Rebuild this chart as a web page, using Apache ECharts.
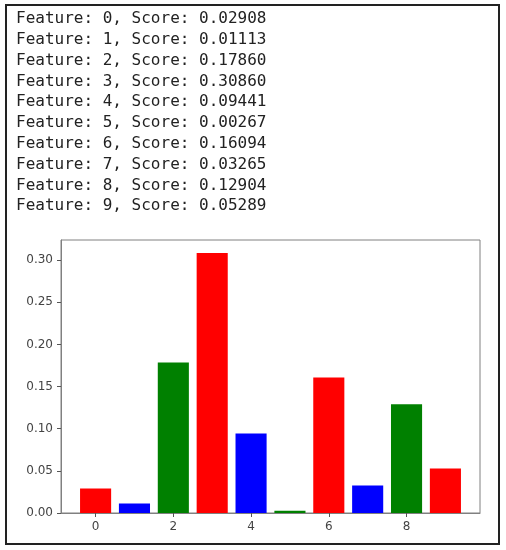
<!DOCTYPE html>
<html>
<head>
<meta charset="utf-8">
<script src="https://cdn.jsdelivr.net/npm/echarts@6/dist/echarts.min.js"></script>
<style>
html,body{margin:0;padding:0;background:#fff;}
#chart{width:506px;height:550px;}
</style>
</head>
<body>
<div id="chart"></div>
<script>
// ---- data ----
const features = [0, 1, 2, 3, 4, 5, 6, 7, 8, 9];
const scores = [0.02908, 0.01113, 0.17860, 0.30860, 0.09441, 0.00267, 0.16094, 0.03265, 0.12904, 0.05289];
const barColors = ['#ff0000', '#0000ff', '#008000'];
const xTicks = [0, 2, 4, 6, 8];
const yTicks = [0, 0.05, 0.10, 0.15, 0.20, 0.25, 0.30];

const chart = echarts.init(document.getElementById('chart'), null, {renderer: 'canvas'});

const textLines = features.map((f, i) => ({
  type: 'text',
  left: 16,
  top: 20 + 20.8 * i - 9,
  style: {
    text: 'Feature: ' + f + ', Score: ' + scores[i].toFixed(5),
    font: '16px "DejaVu Sans Mono", monospace',
    fill: '#222'
  }
}));

const option = {
  animation: false,
  backgroundColor: '#fff',
  graphic: [
    {
      type: 'rect',
      shape: {x: 6, y: 5, width: 493, height: 539},
      style: {fill: 'none', stroke: '#222', lineWidth: 2},
      silent: true
    }
  ].concat(textLines),
  grid: {
    left: 61, top: 240, right: 26, bottom: 37,
    show: true, borderColor: '#808080', borderWidth: 1, backgroundColor: '#fff'
  },
  xAxis: {
    type: 'value',
    min: -0.89, max: 9.89,
    splitLine: {show: false},
    axisLine: {show: true, onZero: false, lineStyle: {color: '#808080'}},
    axisTick: {show: true, length: 4, customValues: xTicks, lineStyle: {color: '#555'}},
    axisLabel: {customValues: xTicks, color: '#444', fontSize: 12, fontFamily: 'DejaVu Sans', margin: 8}
  },
  yAxis: {
    type: 'value',
    min: 0, max: 0.32403,
    splitLine: {show: false},
    axisLine: {show: true, onZero: false, lineStyle: {color: '#808080'}},
    axisTick: {show: true, length: 4, customValues: yTicks, lineStyle: {color: '#555'}},
    axisLabel: {customValues: yTicks, color: '#444', fontSize: 12, fontFamily: 'DejaVu Sans', margin: 8,
      formatter: v => v.toFixed(2)}
  },
  series: [{
    type: 'custom',
    data: features.map((f, i) => [f, scores[i]]),
    renderItem: function (params, api) {
      const x = api.value(0), y = api.value(1);
      const p0 = api.coord([x - 0.4, y]);
      const p1 = api.coord([x + 0.4, 0]);
      return {
        type: 'rect',
        shape: {x: p0[0], y: p0[1], width: p1[0] - p0[0], height: p1[1] - p0[1]},
        style: {fill: barColors[params.dataIndex % 3]}
      };
    }
  }]
};
chart.setOption(option);
</script>
</body>
</html>
